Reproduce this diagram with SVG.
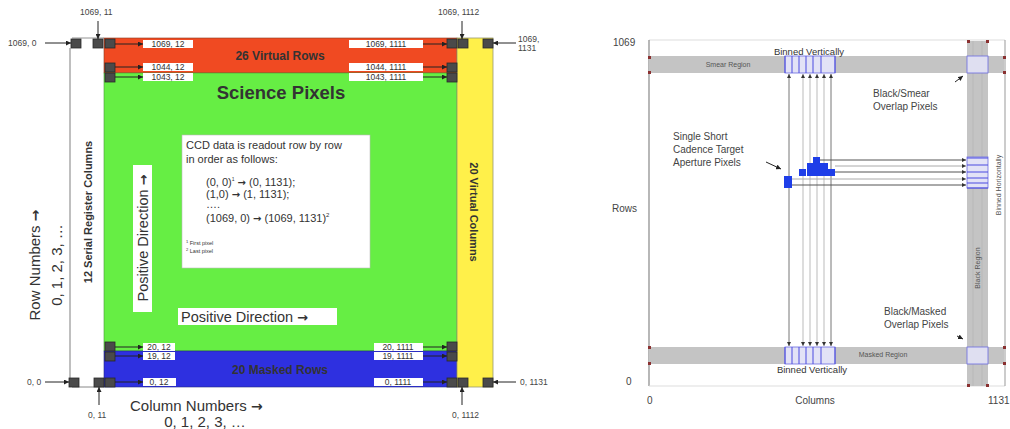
<svg xmlns="http://www.w3.org/2000/svg" width="1010" height="429" viewBox="0 0 1010 429">
<defs>
<marker id="ah" viewBox="0 0 10 10" refX="10" refY="5" markerWidth="5" markerHeight="5" orient="auto"><path d="M0,0 L10,5 L0,10 z" fill="#222"/></marker>
<marker id="ahs" viewBox="0 0 10 10" refX="10" refY="5" markerWidth="4" markerHeight="4" orient="auto-start-reverse"><path d="M0,0 L10,5 L0,10 z" fill="#333"/></marker>
<style>
text{font-family:"Liberation Sans",Arial,sans-serif;fill:#333}
.arw{font-family:"DejaVu Sans",sans-serif;font-weight:bold}
.sq{fill:#4a4a4a;stroke:#2a2a2a;stroke-width:0.8}
.lb{fill:#fff}
.lt{font-size:8.5px;text-anchor:middle;fill:#333}
.ot{font-size:8.5px;fill:#444}
.ar{stroke:#222;stroke-width:1;fill:none;marker-end:url(#ah)}
.gl{stroke:#aaa;stroke-width:1.5;fill:none}
.band{fill:#c4c4c4}
.vl1{stroke:#777;stroke-width:1;fill:none;marker-end:url(#ahs);marker-start:url(#ahs)}
.vl2{stroke:#bbb;stroke-width:1;fill:none;marker-end:url(#ahs);marker-start:url(#ahs)}
.hl1{stroke:#555;stroke-width:1;fill:none;marker-end:url(#ahs)}
.hl2{stroke:#aaa;stroke-width:1;fill:none;marker-end:url(#ahs)}
.bin{fill:#e2e2f6;stroke:#6a6ae0;stroke-width:0.8}
.bl{stroke:#4a4ae0;stroke-width:1}
.rm{fill:#8a3030}
.rt{font-size:10px;fill:#444}
.st{font-size:7px;fill:#555}
.px{fill:#1e3ee8}
</style>
</defs>

<!-- LEFT DIAGRAM -->
<g id="left-regions">
<rect x="104" y="38" width="353" height="35" fill="#f04a22" stroke="#8a3a20" stroke-width="0.6"/>
<rect x="104" y="73" width="353" height="278" fill="#66ee44" stroke="#4a9a3a" stroke-width="0.6"/>
<rect x="104" y="351" width="353" height="36" fill="#2e30e0" stroke="#222a80" stroke-width="0.6"/>
<rect x="457" y="38" width="36" height="349" fill="#fff04a" stroke="#9a9a70" stroke-width="0.8"/>
<line x1="70" y1="48" x2="70" y2="387" class="gl"/>
<line x1="72" y1="38" x2="104" y2="38" stroke="#777" stroke-width="0.8"/>
<line x1="72" y1="387" x2="104" y2="387" stroke="#888" stroke-width="1"/>
</g>

<g id="left-texts">
<text x="280" y="60" font-size="12" font-weight="bold" text-anchor="middle" fill="#3a1208">26 Virtual Rows</text>
<text x="281" y="99" font-size="18.5" font-weight="bold" text-anchor="middle" fill="#0e2a0a">Science Pixels</text>
<text x="280" y="374" font-size="12" font-weight="bold" text-anchor="middle" fill="#ffffff">20 Masked Rows</text>
<text transform="translate(470,212) rotate(90)" font-size="11" font-weight="bold" text-anchor="middle" fill="#222">20 Virtual Columns</text>
<text transform="translate(92,212) rotate(-90)" font-size="11" font-weight="bold" text-anchor="middle" fill="#222">12 Serial Register Columns</text>
<text transform="translate(40,265) rotate(-90)" font-size="15" text-anchor="middle" fill="#333">Row Numbers <tspan class="arw" font-size="14">→</tspan></text>
<text transform="translate(62,265) rotate(-90)" font-size="15" text-anchor="middle" fill="#333">0, 1, 2, 3, …</text>
<text x="130" y="411" font-size="15" fill="#333">Column Numbers <tspan class="arw" font-size="14">→</tspan></text>
<text x="205" y="427" font-size="15" text-anchor="middle" fill="#333">0, 1, 2, 3, …</text>
</g>

<g id="readout-box">
<rect x="182" y="135" width="188" height="133" fill="#fff" stroke="#bbb" stroke-width="0.6"/>
<text x="186" y="149" font-size="11">CCD data is readout row by row</text>
<text x="186" y="163" font-size="11">in order as follows:</text>
<text x="206" y="186" font-size="11">(0, 0)<tspan font-size="5" dy="-5">1</tspan><tspan dy="5"> <tspan class="arw" font-size="10">→</tspan> (0, 1131);</tspan></text>
<text x="206" y="198" font-size="11">(1,0) <tspan class="arw" font-size="10">→</tspan> (1, 1131);</text>
<text x="206" y="208" font-size="11">….</text>
<text x="206" y="222" font-size="11">(1069, 0) <tspan class="arw" font-size="10">→</tspan> (1069, 1131)<tspan font-size="6" dy="-5">2</tspan></text>
<text x="186" y="245" font-size="5.5"><tspan font-size="4" dy="-2">1</tspan><tspan dy="2"> First pixel</tspan></text>
<text x="186" y="253" font-size="5.5"><tspan font-size="4" dy="-2">2</tspan><tspan dy="2"> Last pixel</tspan></text>
</g>

<g id="positive-direction-v">
<rect x="133" y="165" width="19" height="147" fill="#fff"/>
<text transform="translate(148,238) rotate(-90)" font-size="14.5" text-anchor="middle" fill="#222">Positive Direction <tspan class="arw" font-size="13">→</tspan></text>
</g>
<g id="positive-direction-h">
<rect x="178" y="308" width="159" height="17" fill="#fff"/>
<text x="181" y="322" font-size="14.5" fill="#222">Positive Direction <tspan class="arw" font-size="13">→</tspan></text>
</g>

<g id="pixel-squares">
<rect class="sq" x="71" y="39" width="10" height="9"/>
<rect class="sq" x="93" y="39" width="10" height="9"/>
<rect class="sq" x="105" y="39" width="10" height="9"/>
<rect class="sq" x="447" y="39" width="10" height="9"/>
<rect class="sq" x="458" y="39" width="10" height="9"/>
<rect class="sq" x="483" y="39" width="10" height="9"/>
<rect class="sq" x="105" y="63" width="10" height="9"/>
<rect class="sq" x="105" y="73" width="10" height="9"/>
<rect class="sq" x="447" y="63" width="10" height="9"/>
<rect class="sq" x="447" y="73" width="10" height="9"/>
<rect class="sq" x="105" y="342" width="10" height="9"/>
<rect class="sq" x="105" y="352" width="10" height="9"/>
<rect class="sq" x="447" y="342" width="10" height="9"/>
<rect class="sq" x="447" y="352" width="10" height="9"/>
<rect class="sq" x="69" y="378" width="10" height="9"/>
<rect class="sq" x="94" y="378" width="10" height="9"/>
<rect class="sq" x="105" y="378" width="10" height="9"/>
<rect class="sq" x="447" y="378" width="10" height="9"/>
<rect class="sq" x="458" y="378" width="10" height="9"/>
<rect class="sq" x="483" y="378" width="10" height="9"/>
</g>

<g id="pixel-labels">
<rect class="lb" x="143" y="40" width="50" height="8"/><text class="lt" x="168" y="47">1069, 12</text>
<rect class="lb" x="143" y="63" width="50" height="8"/><text class="lt" x="168" y="70">1044, 12</text>
<rect class="lb" x="143" y="73" width="50" height="8"/><text class="lt" x="168" y="80">1043, 12</text>
<rect class="lb" x="349" y="40" width="74" height="8"/><text class="lt" x="386" y="47">1069, 1111</text>
<rect class="lb" x="349" y="63" width="74" height="8"/><text class="lt" x="386" y="70">1044, 1111</text>
<rect class="lb" x="349" y="73" width="74" height="8"/><text class="lt" x="386" y="80">1043, 1111</text>
<rect class="lb" x="143" y="343" width="32" height="8"/><text class="lt" x="159" y="350">20, 12</text>
<rect class="lb" x="143" y="352" width="32" height="8"/><text class="lt" x="159" y="359">19, 12</text>
<rect class="lb" x="143" y="378" width="33" height="8"/><text class="lt" x="159" y="385">0, 12</text>
<rect class="lb" x="374" y="343" width="49" height="8"/><text class="lt" x="398" y="350">20, 1111</text>
<rect class="lb" x="374" y="352" width="49" height="8"/><text class="lt" x="398" y="359">19, 1111</text>
<rect class="lb" x="374" y="378" width="49" height="8"/><text class="lt" x="398" y="385">0, 1111</text>
<text class="ot" x="8" y="46">1069, 0</text>
<text class="ot" x="80" y="15">1069, 11</text>
<text class="ot" x="438" y="15">1069, 1112</text>
<text class="ot" x="518" y="42" font-size="7">1069,</text>
<text class="ot" x="518" y="51" font-size="7">1131</text>
<text class="ot" x="27" y="385">0, 0</text>
<text class="ot" x="88" y="418">0, 11</text>
<text class="ot" x="452" y="418">0, 1112</text>
<text class="ot" x="520" y="385">0, 1131</text>
</g>

<g id="left-connectors">
<line class="ar" x1="115" y1="44" x2="143" y2="44"/>
<line class="ar" x1="115" y1="67" x2="143" y2="67"/>
<line class="ar" x1="115" y1="77" x2="143" y2="77"/>
<line class="ar" x1="423" y1="44" x2="447" y2="44"/>
<line class="ar" x1="423" y1="67" x2="447" y2="67"/>
<line class="ar" x1="423" y1="77" x2="447" y2="77"/>
<line class="ar" x1="115" y1="347" x2="143" y2="347"/>
<line class="ar" x1="115" y1="356" x2="143" y2="356"/>
<line class="ar" x1="115" y1="382" x2="143" y2="382"/>
<line class="ar" x1="423" y1="347" x2="447" y2="347"/>
<line class="ar" x1="423" y1="356" x2="447" y2="356"/>
<line class="ar" x1="423" y1="382" x2="447" y2="382"/>
<line class="ar" x1="45" y1="43" x2="71" y2="43" stroke="#555"/>
<line class="ar" x1="98" y1="21" x2="98" y2="39" stroke="#555"/>
<line class="ar" x1="462" y1="21" x2="462" y2="39" stroke="#555"/>
<line class="ar" x1="516" y1="43" x2="493" y2="43" stroke="#555"/>
<line class="ar" x1="45" y1="382" x2="69" y2="382" stroke="#555"/>
<line class="ar" x1="99" y1="405" x2="99" y2="387" stroke="#555"/>
<line class="ar" x1="462" y1="405" x2="462" y2="387" stroke="#555"/>
<line class="ar" x1="516" y1="382" x2="493" y2="382" stroke="#555"/>
</g>

<!-- RIGHT DIAGRAM -->
<g id="right-frame">
<line x1="649" y1="40" x2="1005" y2="40" stroke="#ddd" stroke-width="1"/>
<line x1="649" y1="40" x2="649" y2="386" stroke="#888" stroke-width="1.2"/>
<line x1="649" y1="386" x2="1005" y2="386" stroke="#ddd" stroke-width="1"/>
<line x1="1005" y1="40" x2="1005" y2="386" stroke="#999" stroke-width="1"/>
</g>

<g id="smear-region">
<rect class="band" x="649" y="56" width="355" height="17"/>
<text class="st" x="728" y="67" text-anchor="middle">Smear Region</text>
</g>
<g id="masked-region">
<rect class="band" x="649" y="347" width="355" height="17"/>
<text class="st" x="883" y="357" text-anchor="middle">Masked Region</text>
</g>
<g id="black-region">
<rect class="band" x="967" y="41" width="21" height="345"/>
<line x1="973" y1="41" x2="973" y2="386" stroke="#b4b4b4" stroke-width="0.6"/>
<line x1="982" y1="41" x2="982" y2="386" stroke="#b4b4b4" stroke-width="0.6"/>
<text class="st" transform="translate(980,268) rotate(-90)" text-anchor="middle">Black Region</text>
<rect class="bin" x="967" y="56" width="21" height="17" fill-opacity="0.9"/>
<rect class="bin" x="967" y="347" width="21" height="17" fill-opacity="0.9"/>
</g>

<g id="red-marks">
<rect class="rm" x="648" y="56" width="3" height="3"/>
<rect class="rm" x="648" y="71" width="3" height="3"/>
<rect class="rm" x="1003" y="56" width="3" height="3"/>
<rect class="rm" x="1003" y="71" width="3" height="3"/>
<rect class="rm" x="648" y="346" width="3" height="3"/>
<rect class="rm" x="648" y="362" width="3" height="3"/>
<rect class="rm" x="1003" y="346" width="3" height="3"/>
<rect class="rm" x="1003" y="362" width="3" height="3"/>
<rect class="rm" x="967" y="40" width="3" height="3"/>
<rect class="rm" x="986" y="40" width="3" height="3"/>
<rect class="rm" x="967" y="384" width="3" height="3"/>
<rect class="rm" x="986" y="384" width="3" height="3"/>
</g>

<g id="binned-vertically-top">
<rect class="bin" x="785" y="56" width="50" height="17" stroke="none"/>
<line class="bl" x1="785" y1="56" x2="785" y2="73"/>
<line class="bl" x1="792" y1="56" x2="792" y2="73"/>
<line class="bl" x1="799" y1="56" x2="799" y2="73"/>
<line class="bl" x1="806" y1="56" x2="806" y2="73"/>
<line class="bl" x1="813" y1="56" x2="813" y2="73"/>
<line class="bl" x1="821" y1="56" x2="821" y2="73"/>
<line class="bl" x1="835" y1="56" x2="835" y2="73"/>
<text x="809" y="55" font-size="9.5" text-anchor="middle" fill="#55558a">Binned Vertically</text>
</g>
<g id="binned-vertically-bottom">
<rect class="bin" x="785" y="347" width="50" height="17" stroke="none"/>
<line class="bl" x1="785" y1="347" x2="785" y2="364"/>
<line class="bl" x1="792" y1="347" x2="792" y2="364"/>
<line class="bl" x1="799" y1="347" x2="799" y2="364"/>
<line class="bl" x1="806" y1="347" x2="806" y2="364"/>
<line class="bl" x1="813" y1="347" x2="813" y2="364"/>
<line class="bl" x1="821" y1="347" x2="821" y2="364"/>
<line class="bl" x1="835" y1="347" x2="835" y2="364"/>
<text x="812" y="373" font-size="9.5" text-anchor="middle" fill="#55558a">Binned Vertically</text>
</g>
<g id="binned-horizontally">
<rect class="bin" x="967" y="157" width="21" height="31" stroke="none"/>
<line class="bl" x1="967" y1="158" x2="988" y2="158"/>
<line class="bl" x1="967" y1="165" x2="988" y2="165"/>
<line class="bl" x1="967" y1="172" x2="988" y2="172"/>
<line class="bl" x1="967" y1="178" x2="988" y2="178"/>
<line class="bl" x1="967" y1="183" x2="988" y2="183"/>
<line class="bl" x1="967" y1="188" x2="988" y2="188"/>
<text class="st" transform="translate(1001,185) rotate(-90)" text-anchor="middle">Binned Horizontally</text>
</g>

<g id="right-connectors">
<line class="vl1" x1="789" y1="74" x2="789" y2="346"/>
<line class="vl2" x1="803" y1="74" x2="803" y2="346"/>
<line class="vl2" x1="810" y1="74" x2="810" y2="346"/>
<line class="vl2" x1="817" y1="74" x2="817" y2="346"/>
<line class="vl2" x1="824" y1="74" x2="824" y2="346"/>
<line class="vl1" x1="831" y1="74" x2="831" y2="346"/>
<line class="hl1" x1="820" y1="160" x2="966" y2="160"/>
<line class="hl2" x1="835" y1="166" x2="966" y2="166"/>
<line class="hl1" x1="835" y1="172" x2="966" y2="172"/>
<line class="hl2" x1="792" y1="179" x2="966" y2="179"/>
<line class="hl1" x1="792" y1="185" x2="966" y2="185"/>
<line class="ar" x1="766" y1="162" x2="781" y2="169" stroke-width="0.8"/>
<line class="ar" x1="955" y1="82" x2="963" y2="76" stroke-width="0.8"/>
<line class="ar" x1="957" y1="336" x2="963" y2="339" stroke-width="0.8"/>
</g>

<g id="target-pixels">
<rect class="px" x="784" y="176" width="8" height="12"/>
<rect class="px" x="799" y="169" width="7" height="7"/>
<path class="px" d="M807,163 H813 V157 H820 V163 H828 V169 H835 V176 H807 Z"/>
</g>

<g id="right-labels">
<text class="rt" x="613" y="46">1069</text>
<text class="rt" x="612" y="212">Rows</text>
<text class="rt" x="626" y="385">0</text>
<text class="rt" x="647" y="404">0</text>
<text class="rt" x="815" y="404" text-anchor="middle">Columns</text>
<text class="rt" x="988" y="404">1131</text>
<text class="rt" x="673" y="140">Single Short</text>
<text class="rt" x="673" y="153">Cadence Target</text>
<text class="rt" x="673" y="166">Aperture Pixels</text>
<text class="rt" x="873" y="97">Black/Smear</text>
<text class="rt" x="873" y="110">Overlap Pixels</text>
<text class="rt" x="884" y="315">Black/Masked</text>
<text class="rt" x="884" y="328">Overlap Pixels</text>
</g>
</svg>
